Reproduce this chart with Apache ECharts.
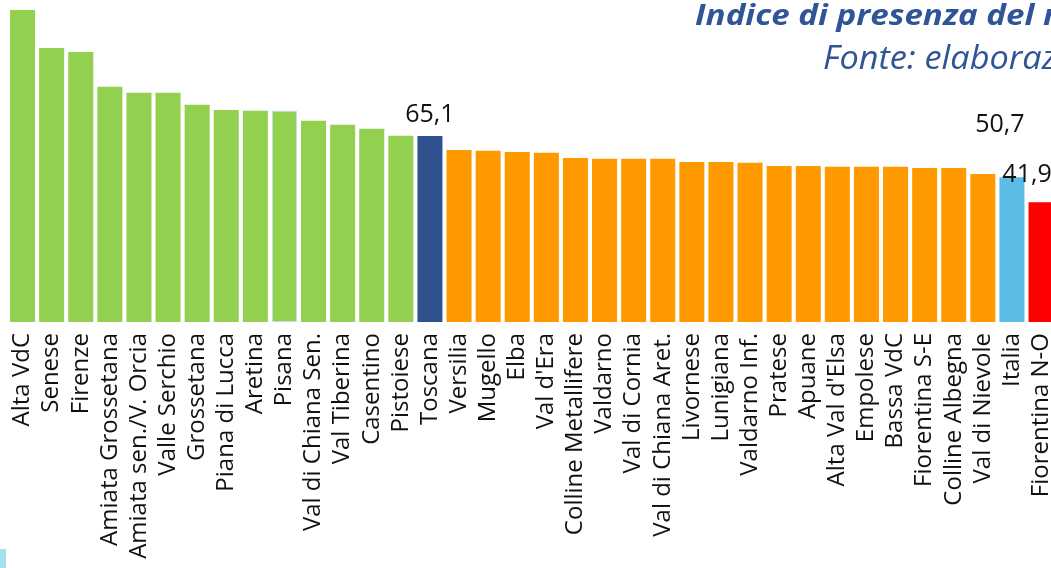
<!DOCTYPE html>
<html>
<head>
<meta charset="utf-8">
<style>
  html, body { margin: 0; padding: 0; background: #ffffff; }
  #chart { width: 1051px; height: 568px; }
</style>
<script src="https://cdn.jsdelivr.net/npm/echarts@6/dist/echarts.min.js"></script>
</head>
<body>
<div id="chart"></div>
<script>
// Zone names, ordered by descending index value
const categories = [
  'Alta VdC', 'Senese', 'Firenze', 'Amiata Grossetana', 'Amiata sen./V. Orcia',
  'Valle Serchio', 'Grossetana', 'Piana di Lucca', 'Aretina', 'Pisana',
  'Val di Chiana Sen.', 'Val Tiberina', 'Casentino', 'Pistoiese', 'Toscana',
  'Versilia', 'Mugello', 'Elba', "Val d'Era", 'Colline Metallifere',
  'Valdarno', 'Val di Cornia', 'Val di Chiana Aret.', 'Livornese', 'Lunigiana',
  'Valdarno Inf.', 'Pratese', 'Apuane', "Alta Val d'Elsa", 'Empolese',
  'Bassa VdC', 'Fiorentina S-E', 'Colline Albegna', 'Val di Nievole', 'Italia',
  'Fiorentina N-O'
];

// Index values per zone
const values = [
  109.2, 95.9, 94.5, 82.3, 80.2,
  80.2, 76.0, 74.2, 73.9, 73.9,
  70.4, 69.0, 67.6, 65.2, 65.1,
  60.2, 59.9, 59.5, 59.2, 57.4,
  57.1, 57.1, 57.1, 56.0, 56.0,
  55.7, 54.6, 54.6, 54.3, 54.3,
  54.3, 53.9, 53.9, 51.8, 50.7,
  41.9
];

const titleText = 'Indice di presenza del medico di famiglia';
const sourceText = 'Fonte: elaborazione ARS su dati regionali';

// Bar colour groups: above region, region, below region, national, lowest
const colorAbove = '#92d050';
const colorRegion = '#2f528f';
const colorBelow = '#ff9900';
const colorNational = '#5bbde3';
const colorLowest = '#ff0000';

// Zones whose value is written above the bar, with their label shifts
const labelled = ['Toscana', 'Italia', 'Fiorentina N-O'];
const labelOffsets = { 'Toscana': [0, 0], 'Italia': [-12, -31], 'Fiorentina N-O': [-14, -6] };

function barColor(name, i) {
  if (name === 'Toscana') return colorRegion;
  if (name === 'Italia') return colorNational;
  if (name === 'Fiorentina N-O') return colorLowest;
  return i < categories.indexOf('Toscana') ? colorAbove : colorBelow;
}

const seriesData = categories.map((name, i) => {
  const item = {
    value: values[i],
    itemStyle: { color: barColor(name, i) }
  };
  if (name === 'Pisana') {
    item.itemStyle.borderColor = '#c3dbe6';
    item.itemStyle.borderWidth = 1;
  }
  if (labelled.includes(name)) {
    item.label = {
      show: true,
      position: 'top',
      distance: 9,
      offset: labelOffsets[name],
      color: '#111111',
      fontFamily: 'Open Sans',
      fontSize: 25,
      formatter: p => String(p.value).replace('.', ',')
    };
  }
  return item;
});

// Horizontal stretch for the heading lines so their first words span the wanted width
const measureCtx = document.createElement('canvas').getContext('2d');
const titleFont = 'italic bold 29px "Open Sans"';
measureCtx.font = titleFont;
const titleScaleX = 348 / measureCtx.measureText('Indice di presenza del ').width;
const sourceFont = 'italic 33px "Open Sans"';
measureCtx.font = sourceFont;
const sourceScaleX = 234 / measureCtx.measureText('Fonte: elaboraz').width;

const chart = echarts.init(document.getElementById('chart'), null, { renderer: 'canvas' });

chart.setOption({
  animation: false,
  backgroundColor: '#ffffff',
  grid: {
    left: 8,
    right: -4.6,
    top: 7.7,
    bottom: 246,
    containLabel: false,
    outerBoundsMode: 'none'
  },
  xAxis: {
    type: 'category',
    data: categories,
    axisLine: { show: false },
    axisTick: { show: false },
    axisLabel: {
      rotate: 90,
      interval: 0,
      margin: 11,
      color: '#111111',
      fontFamily: 'Open Sans',
      fontSize: 24
    }
  },
  yAxis: {
    type: 'value',
    min: 0,
    max: 110,
    show: false,
    splitLine: { show: false }
  },
  graphic: [
    {
      type: 'text',
      x: 695,
      y: 2,
      scaleX: titleScaleX,
      style: {
        text: titleText,
        fill: '#2f5597',
        font: titleFont
      }
    },
    {
      type: 'text',
      x: 823,
      y: 43,
      scaleX: sourceScaleX,
      style: {
        text: sourceText,
        fill: '#2f5597',
        font: sourceFont
      }
    },
    {
      type: 'rect',
      shape: { x: 0, y: 549, width: 6, height: 19 },
      style: { fill: '#8fd6e8', opacity: 0.8 }
    }
  ],
  series: [
    {
      type: 'bar',
      data: seriesData,
      barCategoryGap: '14%'
    }
  ]
});
</script>
</body>
</html>
